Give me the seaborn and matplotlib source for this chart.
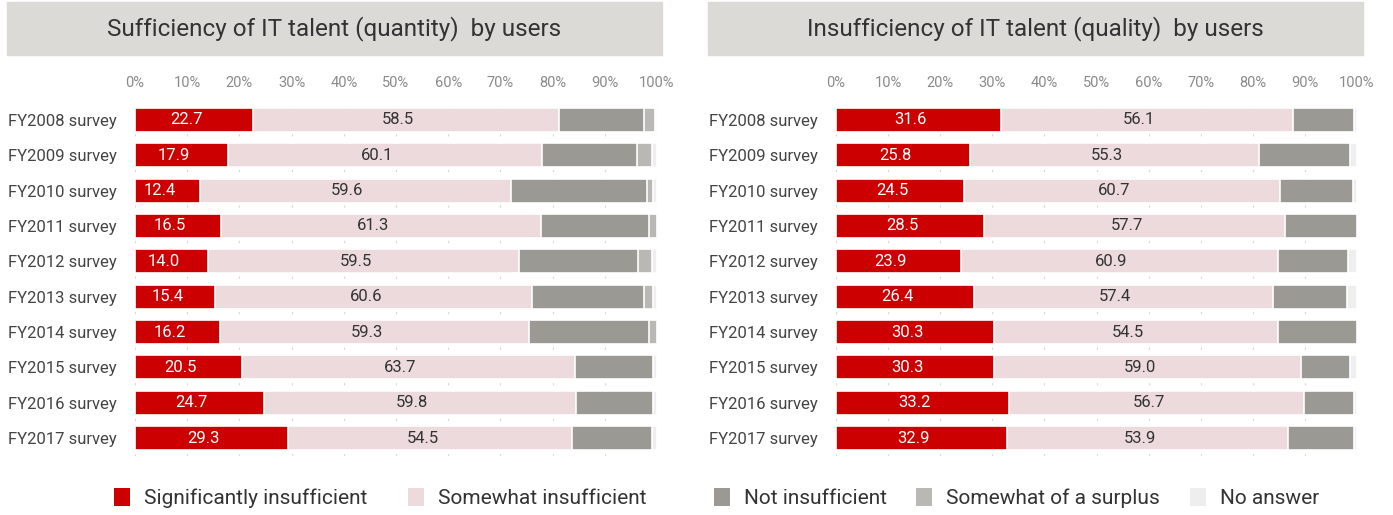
import numpy as np
import pandas as pd
import matplotlib.pyplot as plt
import seaborn as sns
from matplotlib.patches import Rectangle, Patch

sns.set_theme(style="white")
plt.rcParams['font.family'] = ['Roboto', 'DejaVu Sans']

years = ["FY2008 survey", "FY2009 survey", "FY2010 survey", "FY2011 survey", "FY2012 survey",
         "FY2013 survey", "FY2014 survey", "FY2015 survey", "FY2016 survey", "FY2017 survey"]
categories = ["Significantly insufficient", "Somewhat insufficient", "Not insufficient",
              "Somewhat of a surplus", "No answer"]
colors = ["#cc0000", "#ecdadc", "#9b9994", "#b9b8b4", "#eeeeee"]

# quantity panel
qty_sig = [22.7, 17.9, 12.4, 16.5, 14.0, 15.4, 16.2, 20.5, 24.7, 29.3]
qty_some = [58.5, 60.1, 59.6, 61.3, 59.5, 60.6, 59.3, 63.7, 59.8, 54.5]
qty_not = [16.3, 18.2, 26.1, 20.6, 22.9, 21.6, 22.9, 15.1, 14.8, 15.2]
qty_surplus = [2.1, 2.9, 1.2, 1.6, 2.6, 1.7, 1.6, 0.0, 0.0, 0.0]
qty_na = [0.4, 0.9, 0.7, 0.0, 1.0, 0.7, 0.0, 0.7, 0.7, 1.0]

# quality panel
qual_sig = [31.6, 25.8, 24.5, 28.5, 23.9, 26.4, 30.3, 30.3, 33.2, 32.9]
qual_some = [56.1, 55.3, 60.7, 57.7, 60.9, 57.4, 54.5, 59.0, 56.7, 53.9]
qual_not = [11.8, 17.5, 14.0, 13.8, 13.5, 14.3, 15.2, 9.3, 9.6, 12.7]
qual_surplus = [0.0] * 10
qual_na = [0.5, 1.4, 0.8, 0.0, 1.7, 1.9, 0.0, 1.4, 0.5, 0.5]

W, H = 1393, 515
fig = plt.figure(figsize=(W / 100, H / 100), dpi=100)


def panel(rect, title, band, series):
    ax = fig.add_axes(rect)
    df = pd.DataFrame(dict(zip(categories, series)), index=years)
    cum = df.cumsum(axis=1)
    # stacked look: cumulative totals drawn back to front
    for i in range(len(categories) - 1, -1, -1):
        sns.barplot(x=cum.iloc[:, i].values, y=years, orient="h", color=colors[i],
                    saturation=1, width=0.68, edgecolor="white", linewidth=1.2, ax=ax, zorder=2)
    for r in range(len(years)):
        s = df.iloc[r, 0]
        m = df.iloc[r, 1]
        ax.text(s / 2 - 1.5, r, f"{s:.1f}", ha="center", va="center", color="white",
                fontsize=12, zorder=5)
        ax.text(s + m / 2 - 1.5, r, f"{m:.1f}", ha="center", va="center", color="#333333",
                fontsize=12, zorder=5)
    ax.set_xlim(0, 100)
    ax.set_ylim(9.5, -0.5)
    ax.set_xticks(np.arange(0, 101, 10))
    ax.set_xticklabels([f"{t}%" for t in range(0, 101, 10)])
    ax.xaxis.tick_top()
    ax.tick_params(axis="x", length=0, pad=9, labelsize=10.5, labelcolor="#8a8a8a")
    ax.tick_params(axis="y", length=0, pad=13, labelsize=12, labelcolor="#444444")
    ax.grid(axis="x", color="#d8d8d8", linestyle=(0, (2, 6)), linewidth=0.8, zorder=0)
    ax.set_axisbelow(True)
    for sp in ax.spines.values():
        sp.set_visible(False)
    ax.set_xlabel("")
    ax.set_ylabel("")
    x0, x1 = band
    fig.patches.append(Rectangle((x0 / W, 1 - 55 / H), (x1 - x0) / W, 53 / H,
                                 transform=fig.transFigure, color="#dcdad7", zorder=0))
    fig.text((x0 + x1) / 2 / W, 1 - 29 / H, title, ha="center", va="center",
             fontsize=17.5, color="#333333")
    return ax


bottom = 1 - 455.7 / H
height = (455.7 - 102.3) / H
panel([135 / W, bottom, 522 / W, height], "Sufficiency of IT talent (quantity)  by users", (7, 662),
      [qty_sig, qty_some, qty_not, qty_surplus, qty_na])
panel([836 / W, bottom, 521 / W, height], "Insufficiency of IT talent (quality)  by users", (708, 1363),
      [qual_sig, qual_some, qual_not, qual_surplus, qual_na])

# one legend entry per category, placed under the panels
handles = [Patch(facecolor=c, edgecolor="none") for c in colors]
legend_x = [114, 408, 714, 916, 1190]
for h, lab, lx in zip(handles, categories, legend_x):
    fig.legend([h], [lab], loc="center left", bbox_to_anchor=(lx / W, 1 - 498 / H),
               frameon=False, fontsize=15, handlelength=0.75, handleheight=1.0,
               handletextpad=0.7, borderaxespad=0, borderpad=0, labelcolor="#333333")

fig.savefig("out.png", dpi=100)
